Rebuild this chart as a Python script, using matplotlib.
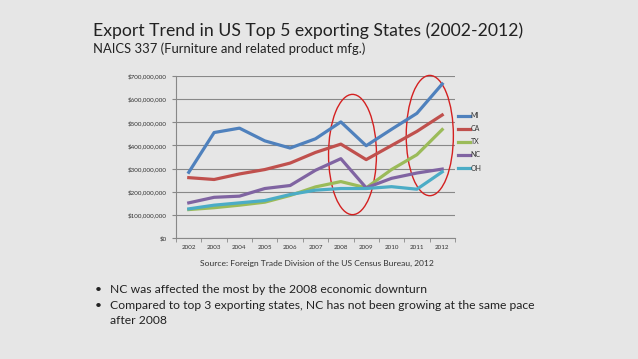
import matplotlib.pyplot as plt
from matplotlib.patches import Ellipse
from matplotlib.ticker import FuncFormatter

plt.rcParams['font.family'] = ['Lato', 'DejaVu Sans']

years = ['2002', '2003', '2004', '2005', '2006', '2007', '2008', '2009', '2010', '2011', '2012']
states = ['MI', 'CA', 'TX', 'NC', 'OH']
mi = [284, 456, 475, 420, 389, 429, 502, 399, 470, 539, 666]
ca = [261, 253, 277, 296, 324, 370, 406, 339, 400, 461, 532]
tx = [123, 131, 142, 155, 184, 221, 244, 217, 296, 360, 469]
nc = [152, 176, 181, 214, 227, 293, 343, 217, 258, 281, 298]
oh = [126, 142, 152, 162, 188, 207, 214, 214, 222, 211, 286]
colors = ['#4F81BD', '#C0504D', '#9BBB59', '#8064A2', '#4BACC6']

bg = '#E6E6E6'
fig = plt.figure(figsize=(6.38, 3.59), dpi=100, facecolor=bg)
ax = fig.add_axes([0.276, 0.337, 0.437, 0.451])
ax.set_facecolor(bg)

x = range(len(years))
for name, vals, c in zip(states, [mi, ca, tx, nc, oh], colors):
    ax.plot(x, [v * 1e6 for v in vals], color=c, lw=2.3, label=name)

ax.set_xlim(-0.5, len(years) - 0.5)
ax.set_ylim(0, 700e6)
ax.set_yticks([i * 100e6 for i in range(8)])
ax.yaxis.set_major_formatter(FuncFormatter(lambda v, p: '${:,.0f}'.format(v)))
ax.set_xticks(list(x))
ax.set_xticklabels(years)
ax.set_xticks([i - 0.5 for i in range(len(years) + 1)], minor=True)
ax.tick_params(axis='x', which='major', length=0, labelsize=4.5, pad=5, colors='#333333')
ax.tick_params(axis='x', which='minor', length=3, color='#888888')
ax.tick_params(axis='y', length=3, labelsize=4.5, color='#888888', labelcolor='#333333')
ax.grid(axis='y', color='#888888', lw=0.8)
ax.set_axisbelow(True)
for s in ['top', 'right']:
    ax.spines[s].set_visible(False)
for s in ['left', 'bottom']:
    ax.spines[s].set_color('#888888')
    ax.spines[s].set_linewidth(0.8)

# highlight circles
ax.add_patch(Ellipse((6.46, 361e6), 1.89, 520e6, fill=False, ec='#D42020', lw=1.0, clip_on=False))
ax.add_patch(Ellipse((9.51, 443e6), 1.86, 520e6, fill=False, ec='#D42020', lw=1.0, clip_on=False))

leg = ax.legend(loc='upper left', bbox_to_anchor=(1.0, 0.795), frameon=False, fontsize=5,
                handlelength=1.8, handletextpad=0.1, labelspacing=0.88, borderaxespad=0)
for t in leg.get_texts():
    t.set_color('#333333')

fig.text(0.145, 0.9, 'Export Trend in US Top 5 exporting States (2002-2012)', fontsize=12.7, color='#222222')
fig.text(0.145, 0.853, 'NAICS 337 (Furniture and related product mfg.)', fontsize=9.4, color='#222222')
fig.text(0.497, 0.259, 'Source: Foreign Trade Division of the US Census Bureau, 2012', fontsize=6.1,
         ha='center', color='#333333')

bullets = [(0.184, 'NC was affected the most by the 2008 economic downturn'),
           (0.138, 'Compared to top 3 exporting states, NC has not been growing at the same pace')]
for y, txt in bullets:
    fig.text(0.148, y, '\u2022', fontsize=8.7, color='#222222')
    fig.text(0.172, y, txt, fontsize=8.75, color='#222222')
fig.text(0.172, 0.097, 'after 2008', fontsize=8.75, color='#222222')

fig.savefig('out.png', dpi=100, facecolor=bg)
